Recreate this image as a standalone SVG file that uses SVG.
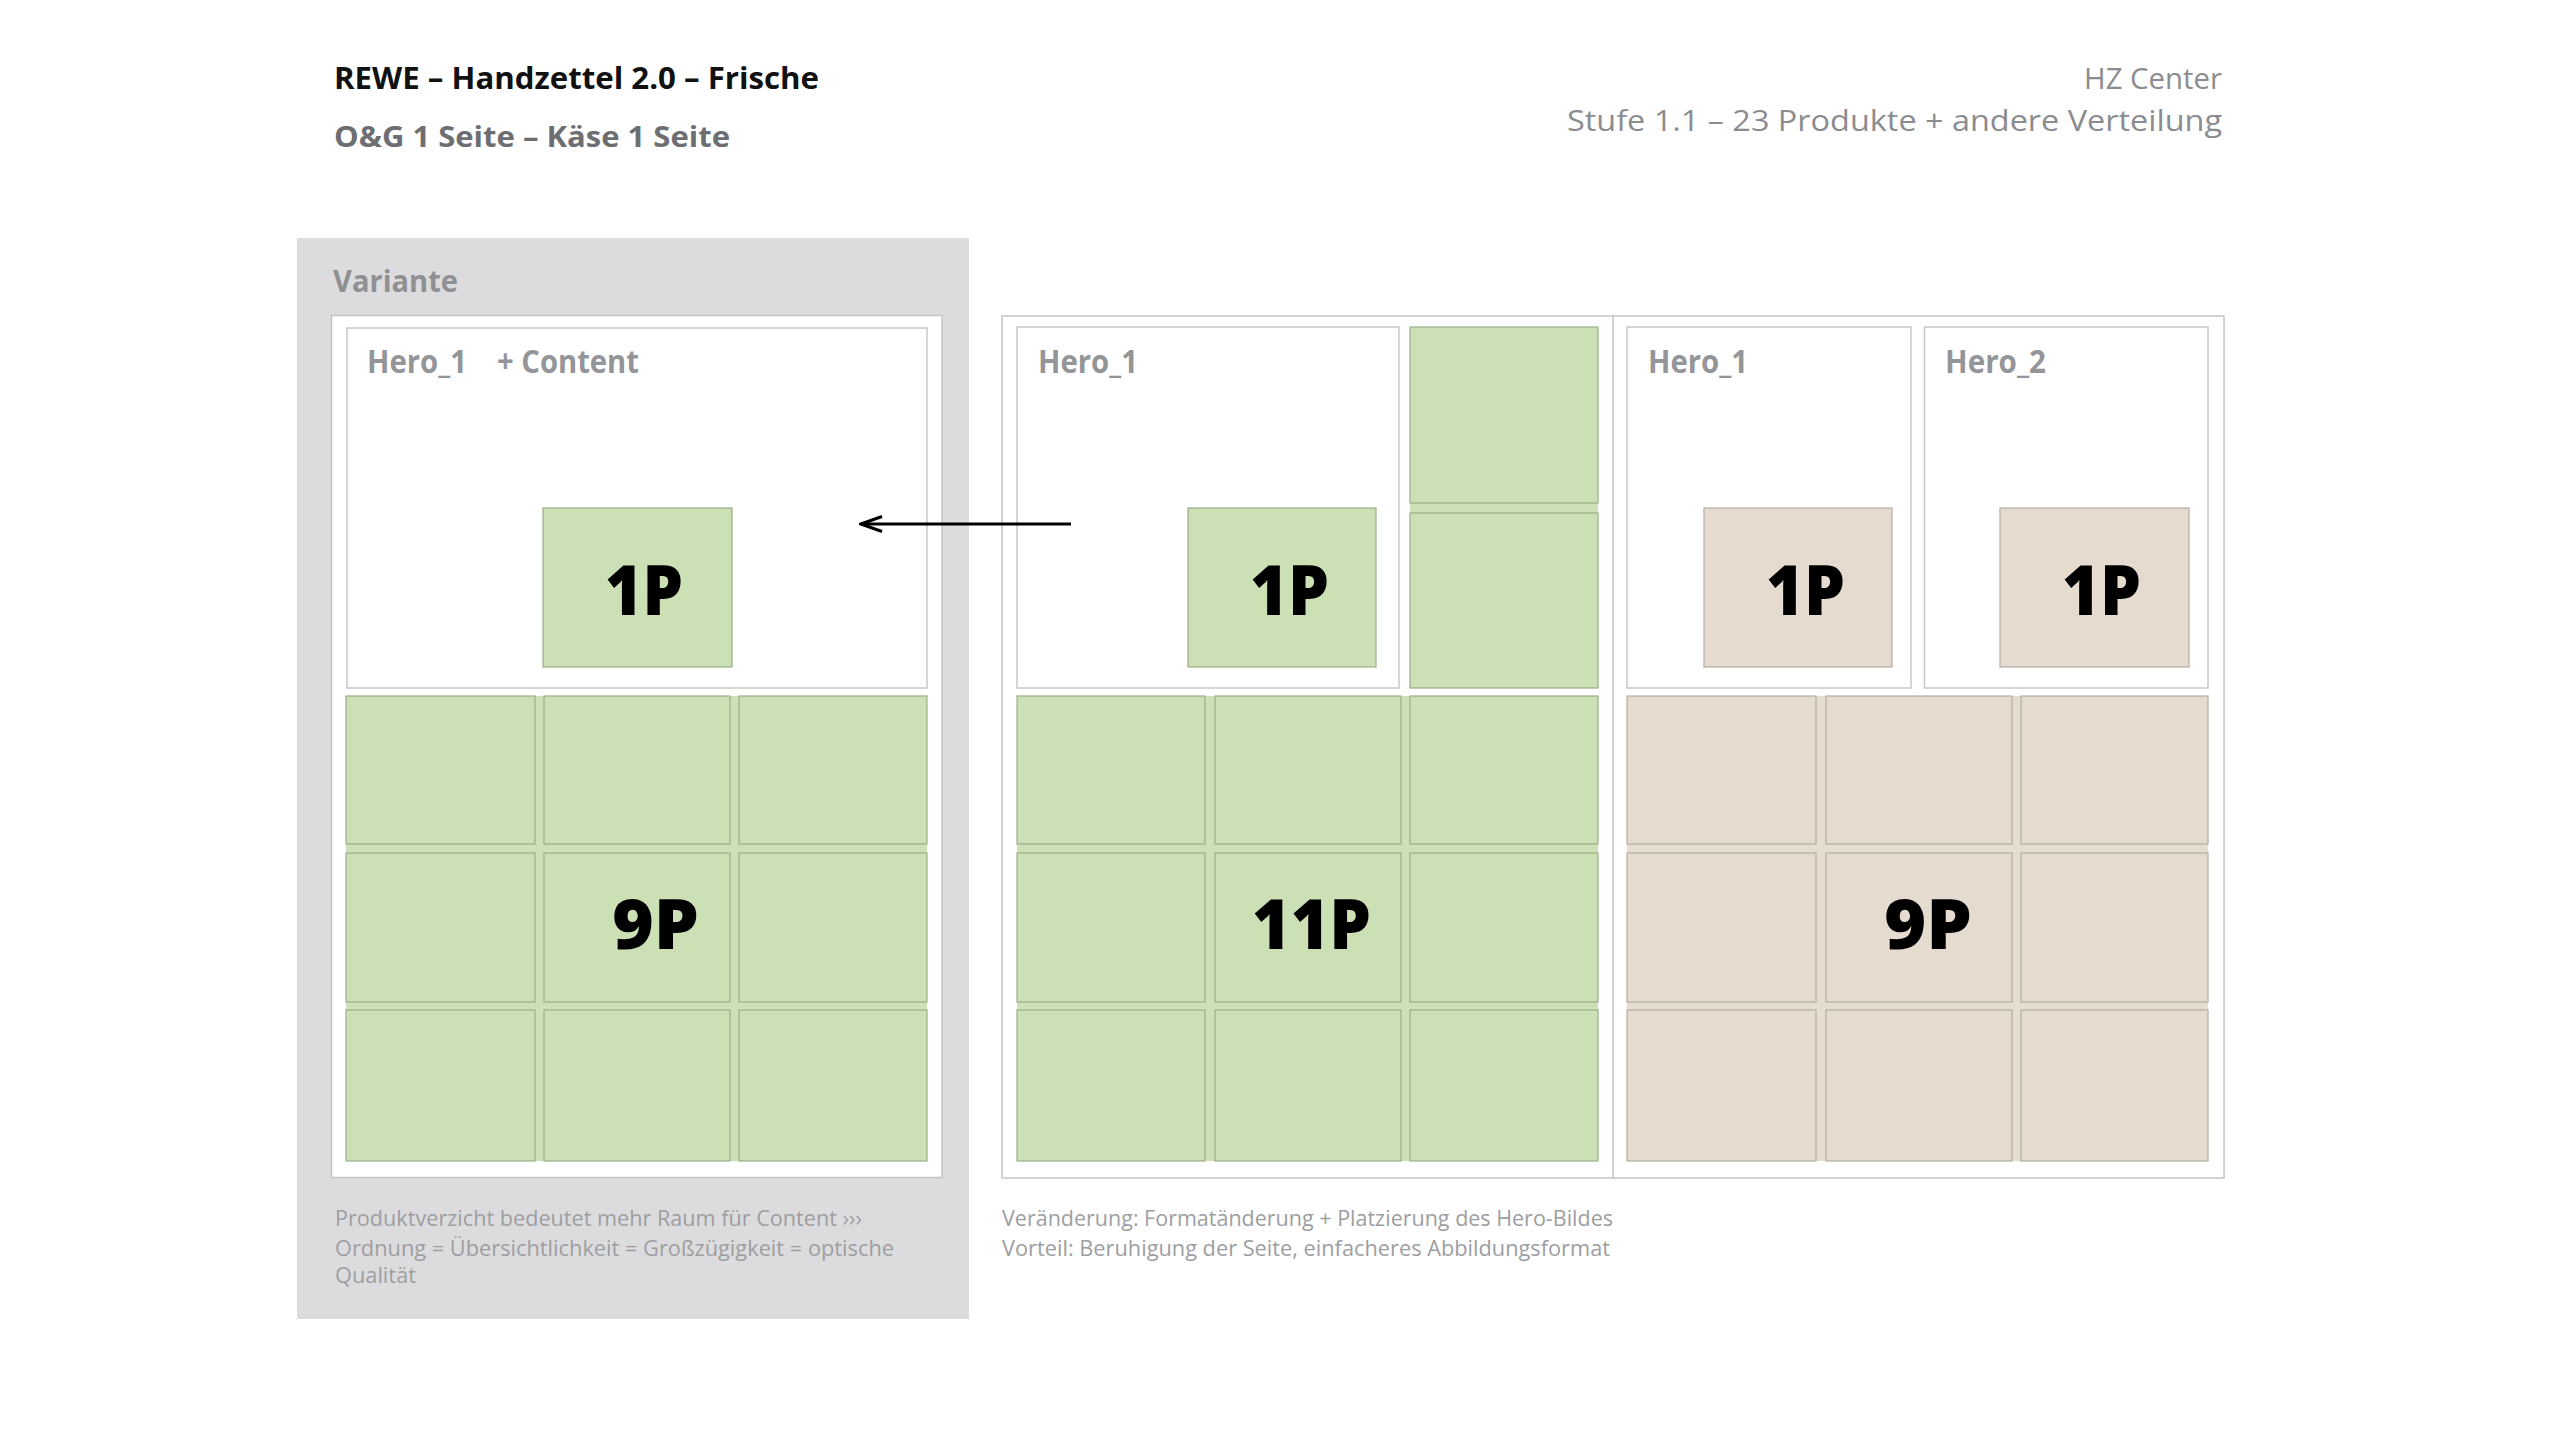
<svg xmlns="http://www.w3.org/2000/svg" width="2560" height="1440" viewBox="0 0 2560 1440">
<defs>
<style>
.t{font-family:"Open Sans","Noto Sans","Liberation Sans",sans-serif}
.title{font-size:30px;font-weight:700;fill:#111}
.sub{font-size:29px;font-weight:700;fill:#6d6e71}
.hz{font-size:29px;font-weight:400;fill:#8b8c8f}
.lbl{font-size:33px;font-weight:700;fill:#939598}
.var{font-size:31px;font-weight:700;fill:#8f9093}
.big{font-size:69px;font-weight:800;fill:#000}
.note{font-size:22px;font-weight:400;fill:#9d9ea1}
.page{fill:#fff;stroke:#c4c4c4;stroke-width:1.5}
.hero{fill:#fff;stroke:#c8c8c8;stroke-width:1.5}
.g{fill:#cce0b6;stroke:#9aae88;stroke-width:1.2}
.gb{fill:#cde1b8}
.b{fill:#e5dccf;stroke:#b4aca1;stroke-width:1.2}
.bb{fill:#e6ddd1}
</style>
<marker id="arr" markerUnits="userSpaceOnUse" markerWidth="30" markerHeight="24" refX="28" refY="12" orient="auto" viewBox="0 0 30 24">
<path d="M7,4.5 L28,12 L7,19.5" fill="none" stroke="#000" stroke-width="3"/>
</marker>
</defs>
<rect width="2560" height="1440" fill="#fff"/>

<g id="header">
<text class="t title" x="334" y="89" textLength="485" lengthAdjust="spacingAndGlyphs">REWE – Handzettel 2.0 – Frische</text>
<text class="t sub" x="334" y="147" textLength="396" lengthAdjust="spacingAndGlyphs">O&amp;G 1 Seite – Käse 1 Seite</text>
<text class="t hz" x="2222" y="89" text-anchor="end" textLength="138" lengthAdjust="spacingAndGlyphs">HZ Center</text>
<text class="t hz" x="2222" y="131" text-anchor="end" textLength="655" lengthAdjust="spacingAndGlyphs">Stufe 1.1 – 23 Produkte + andere Verteilung</text>
</g>

<g id="variante">
<rect x="297" y="238" width="672" height="1081" fill="#dcdcde"/>
<text class="t var" x="333" y="292" textLength="125" lengthAdjust="spacingAndGlyphs">Variante</text>
<rect class="page" x="331.5" y="315.5" width="610.5" height="862"/>
<g id="variante-hero">
<rect class="hero" x="347" y="328" width="580" height="360"/>
<text class="t lbl" x="367" y="373" textLength="100" lengthAdjust="spacingAndGlyphs">Hero_1</text>
<text class="t lbl" x="497" y="373" textLength="142" lengthAdjust="spacingAndGlyphs">+ Content</text>
<rect class="g" x="543" y="508" width="189" height="159"/>
<text class="t big" x="605" y="615" textLength="78" lengthAdjust="spacingAndGlyphs">1P</text>
</g>
<g id="variante-grid">
<rect class="gb" x="346" y="696" width="581" height="465"/>
<rect class="g" x="346" y="696" width="189" height="148"/>
<rect class="g" x="544" y="696" width="186" height="148"/>
<rect class="g" x="739" y="696" width="188" height="148"/>
<rect class="g" x="346" y="853" width="189" height="149"/>
<rect class="g" x="544" y="853" width="186" height="149"/>
<rect class="g" x="739" y="853" width="188" height="149"/>
<rect class="g" x="346" y="1010" width="189" height="151"/>
<rect class="g" x="544" y="1010" width="186" height="151"/>
<rect class="g" x="739" y="1010" width="188" height="151"/>
<text class="t big" x="612" y="949" textLength="87" lengthAdjust="spacingAndGlyphs">9P</text>
</g>
<text class="t note" x="335" y="1226" textLength="527" lengthAdjust="spacingAndGlyphs">Produktverzicht bedeutet mehr Raum für Content ›››</text>
<text class="t note" x="335" y="1256" textLength="559" lengthAdjust="spacingAndGlyphs">Ordnung = Übersichtlichkeit = Großzügigkeit = optische</text>
<text class="t note" x="335" y="1283" textLength="81" lengthAdjust="spacingAndGlyphs">Qualität</text>
</g>

<g id="spread">
<rect class="page" x="1002" y="316" width="1222" height="862"/>
<line x1="1613" y1="316" x2="1613" y2="1178" stroke="#c4c4c4" stroke-width="1.5"/>
</g>

<g id="og-page">
<rect class="hero" x="1017" y="327" width="382" height="361"/>
<text class="t lbl" x="1038" y="373" textLength="100" lengthAdjust="spacingAndGlyphs">Hero_1</text>
<rect class="g" x="1188" y="508" width="188" height="159"/>
<text class="t big" x="1250" y="615" textLength="79" lengthAdjust="spacingAndGlyphs">1P</text>
<rect class="gb" x="1410" y="327" width="188" height="361"/>
<rect class="g" x="1410" y="327" width="188" height="176"/>
<rect class="g" x="1410" y="513" width="188" height="175"/>
<rect class="gb" x="1017" y="696" width="581" height="465"/>
<rect class="g" x="1017" y="696" width="188" height="148"/>
<rect class="g" x="1215" y="696" width="186" height="148"/>
<rect class="g" x="1410" y="696" width="188" height="148"/>
<rect class="g" x="1017" y="853" width="188" height="149"/>
<rect class="g" x="1215" y="853" width="186" height="149"/>
<rect class="g" x="1410" y="853" width="188" height="149"/>
<rect class="g" x="1017" y="1010" width="188" height="151"/>
<rect class="g" x="1215" y="1010" width="186" height="151"/>
<rect class="g" x="1410" y="1010" width="188" height="151"/>
<text class="t big" x="1252" y="949" textLength="119" lengthAdjust="spacingAndGlyphs">11P</text>
</g>

<g id="kaese-page">
<rect class="hero" x="1627" y="327" width="284" height="361"/>
<text class="t lbl" x="1648" y="373" textLength="100" lengthAdjust="spacingAndGlyphs">Hero_1</text>
<rect class="b" x="1704" y="508" width="188" height="159"/>
<text class="t big" x="1766" y="615" textLength="79" lengthAdjust="spacingAndGlyphs">1P</text>
<rect class="hero" x="1924.5" y="327" width="283.5" height="361"/>
<text class="t lbl" x="1945" y="373" textLength="101" lengthAdjust="spacingAndGlyphs">Hero_2</text>
<rect class="b" x="2000" y="508" width="189" height="159"/>
<text class="t big" x="2062" y="615" textLength="79" lengthAdjust="spacingAndGlyphs">1P</text>
<rect class="bb" x="1627" y="696" width="581" height="465"/>
<rect class="b" x="1627" y="696" width="189" height="148"/>
<rect class="b" x="1826" y="696" width="186" height="148"/>
<rect class="b" x="2021" y="696" width="187" height="148"/>
<rect class="b" x="1627" y="853" width="189" height="149"/>
<rect class="b" x="1826" y="853" width="186" height="149"/>
<rect class="b" x="2021" y="853" width="187" height="149"/>
<rect class="b" x="1627" y="1010" width="189" height="151"/>
<rect class="b" x="1826" y="1010" width="186" height="151"/>
<rect class="b" x="2021" y="1010" width="187" height="151"/>
<text class="t big" x="1884" y="949" textLength="88" lengthAdjust="spacingAndGlyphs">9P</text>
</g>

<g id="notes">
<text class="t note" x="1002" y="1226" textLength="611" lengthAdjust="spacingAndGlyphs">Veränderung: Formatänderung + Platzierung des Hero-Bildes</text>
<text class="t note" x="1002" y="1256" textLength="608" lengthAdjust="spacingAndGlyphs">Vorteil: Beruhigung der Seite, einfacheres Abbildungsformat</text>
</g>

<g id="connectors">
<line x1="1071" y1="524" x2="861" y2="524" stroke="#000" stroke-width="3" marker-end="url(#arr)"/>
</g>
</svg>
